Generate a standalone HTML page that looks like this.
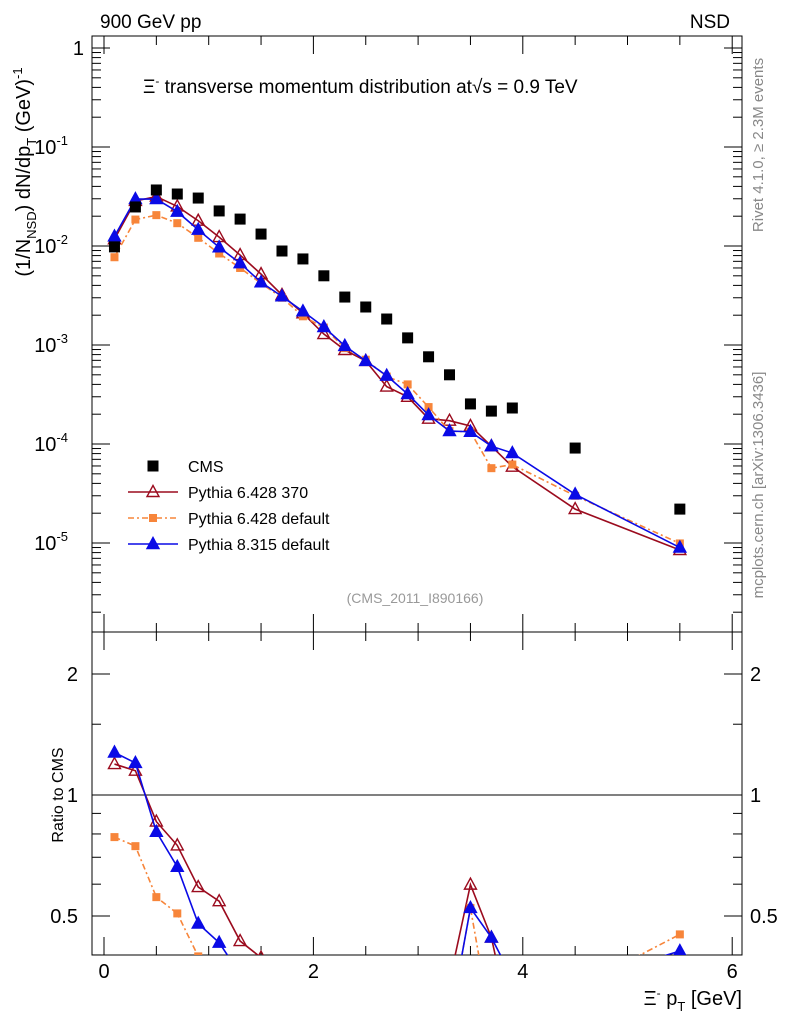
<!DOCTYPE html>
<html><head><meta charset="utf-8"><style>
body{margin:0;background:#fff;font-family:"Liberation Sans",sans-serif}
svg text{font-family:"Liberation Sans","DejaVu Sans",sans-serif}
</style></head><body>
<svg id="c" width="786" height="1024" xmlns="http://www.w3.org/2000/svg">
<defs>
<clipPath id="cm"><rect x="92" y="36" width="650" height="596"/></clipPath>
<clipPath id="cr"><rect x="92" y="632" width="650" height="323"/></clipPath>
</defs>
<rect x="92" y="36" width="650" height="596" fill="none" stroke="#000"/>
<rect x="92" y="632" width="650" height="323" fill="none" stroke="#000"/>
<g id="axes"></g>
<g id="mainMarks" clip-path="url(#cm)"></g>
<g id="ratioMarks" clip-path="url(#cr)"></g>
<text x="100" y="28" font-size="19">900 GeV pp</text>
<text x="730" y="28" font-size="19" text-anchor="end">NSD</text>
<text x="143" y="93" font-size="19">Ξ<tspan dy="-8" font-size="12">-</tspan><tspan dy="8"> transverse momentum distribution at</tspan><tspan>√s = 0.9 TeV</tspan></text>
<text transform="translate(30,172) rotate(-90)" font-size="20" text-anchor="middle">(1/N<tspan font-size="13" dy="6">NSD</tspan><tspan dy="-6">) dN/dp</tspan><tspan font-size="13" dy="6">T</tspan><tspan dy="-6"> (GeV)</tspan><tspan font-size="13" dy="-8">-1</tspan></text>
<text transform="translate(63,795) rotate(-90)" font-size="16" text-anchor="middle">Ratio to CMS</text>
<text x="742" y="1005" font-size="20" text-anchor="end">Ξ<tspan dy="-8" font-size="12">-</tspan><tspan dy="8"> p</tspan><tspan font-size="13" dy="6">T</tspan><tspan dy="-6"> [GeV]</tspan></text>
<text transform="translate(763,145) rotate(-90)" font-size="15" fill="#888" text-anchor="middle">Rivet 4.1.0, ≥ 2.3M events</text>
<text transform="translate(763,485) rotate(-90)" font-size="15" fill="#888" text-anchor="middle">mcplots.cern.ch [arXiv:1306.3436]</text>
<text x="415" y="603" font-size="14" fill="#999" text-anchor="middle">(CMS_2011_I890166)</text>
<g id="legend"></g>
</svg>
<script>
const xs=[0.1,0.3,0.5,0.7,0.9,1.1,1.3,1.5,1.7,1.9,2.1,2.3,2.5,2.7,2.9,3.1,3.3,3.5,3.7,3.9,4.5,5.5];
const cms=[0.0098,0.0248,0.0368,0.0335,0.0305,0.0226,0.0187,0.0132,0.0089,0.0074,0.0050,0.00305,0.00242,0.00183,0.00118,0.00076,0.00050,0.000254,0.000215,0.000231,0.000091,0.000022];
const py370=[0.0117,0.0285,0.0316,0.0251,0.0180,0.0123,0.0081,0.0052,0.0032,0.00209,0.00129,0.00089,0.00069,0.00038,0.00030,0.000180,0.000172,0.000152,0.000095,0.000059,0.000022,0.0000085];
const py6def=[0.0077,0.0185,0.0205,0.0170,0.0121,0.0084,0.0060,0.0042,0.0030,0.00195,0.00150,0.00093,0.00071,0.00048,0.00040,0.000236,0.000135,0.000133,0.000057,0.000062,0.000030,0.0000099];
const py8=[0.0125,0.0298,0.0298,0.0222,0.0146,0.0097,0.0067,0.0043,0.0031,0.00219,0.00152,0.00098,0.00069,0.00049,0.00032,0.000196,0.000135,0.000133,0.000095,0.000081,0.000031,0.0000090];
const yTicks=[1,0.1,0.01,0.001,0.0001,0.00001];
const yTickLabels=["1","10","10","10","10","10"];
const yTickExp=["","-1","-2","-3","-4","-5"];
const xTicks=[0,2,4,6];
const rTicks=[2,1,0.5];

const NS="http://www.w3.org/2000/svg";
const X=v=>104+104.7*v;
const Y=v=>48-99*Math.log10(v);
const R=r=>795-121*Math.log2(r);
function mk(tag,attrs,parent){const e=document.createElementNS(NS,tag);for(const k in attrs)e.setAttribute(k,attrs[k]);parent.appendChild(e);return e;}
const ax=document.getElementById('axes');
for(let d=-6;d<=0;d++){for(let m=1;m<10;m++){const v=m*Math.pow(10,d);const y=Y(v);if(y<36||y>632)continue;const L=m==1?18:9;
const t=mk('line',{x1:92,x2:92+L,y1:y,y2:y,stroke:'#000'},ax);
const t2=mk('line',{x1:742,x2:742-L,y1:y,y2:y,stroke:'#000'},ax);}}
yTicks.forEach((v,i)=>{const t=mk('text',{x:yTickExp[i]?68:84,y:Y(v)+7,'font-size':20,'text-anchor':'end'},ax);

t.textContent=yTickLabels[i];if(yTickExp[i]){const s=mk('tspan',{'font-size':13,dy:-9},t);s.textContent=yTickExp[i];}});
for(let v=0;v<=6.1;v+=0.5){const x=X(v);const L=Math.abs(v%2)<1e-6?18:9;
[[632,-1],[36,1],[955,-1],[632,1]].forEach(([y0,s])=>{const t=mk('line',{x1:x,x2:x,y1:y0,y2:y0+s*L,stroke:'#000'},ax);});}
xTicks.forEach(v=>{const t=mk('text',{x:X(v),y:978,'font-size':20,'text-anchor':'middle'},ax);t.textContent=v;});
[0.4,0.5,0.6,0.7,0.8,0.9,1,1.5,2].forEach(v=>{const y=R(v);const L=(v==1||v==2||v==0.5)?18:9;
const a=mk('line',{x1:92,x2:92+L,y1:y,y2:y,stroke:'#000'},ax);
const b=mk('line',{x1:742,x2:742-L,y1:y,y2:y,stroke:'#000'},ax);});
rTicks.forEach(v=>{const a=mk('text',{x:78,y:R(v)+7,'font-size':20,'text-anchor':'end'},ax);a.textContent=v;
const b=mk('text',{x:750,y:R(v)+7,'font-size':20},ax);b.textContent=v;});
const one=mk('line',{x1:92,x2:742,y1:R(1),y2:R(1),stroke:'#000'},ax);

function marker(g,type,x,y,col){let e;
if(type=='sq'){e=mk('rect',{x:x-5.5,y:y-5.5,width:11,height:11,fill:col},g);}
else if(type=='osq'){e=mk('rect',{x:x-4,y:y-4,width:8,height:8,fill:col},g);}
else {e=mk('polygon',{points:`${x},${y-6.5} ${x-6},${y+4.5} ${x+6},${y+4.5}`,fill:type=='tri'?col:'none',stroke:col,'stroke-width':1.4},g);}
return e;}
const series=[
 {name:'pythia6-370',d:py370,col:'#9b0b1e',m:'otri',dash:''},
 {name:'pythia6-default',d:py6def,col:'#f7853a',m:'osq',dash:'6,3,2,3'},
 {name:'pythia8',d:py8,col:'#0a0ae6',m:'tri',dash:''}];
const mm=document.getElementById('mainMarks'), rm=document.getElementById('ratioMarks');
series.forEach(s=>{
 const p=mk('polyline',{points:xs.map((x,i)=>X(x)+','+Y(s.d[i])).join(' '),fill:'none',stroke:s.col,'stroke-width':1.6,'stroke-dasharray':s.dash},mm);
 
 xs.forEach((x,i)=>{const e=marker(mm,s.m,X(x),Y(s.d[i]),s.col);});
 const rp=mk('polyline',{points:xs.map((x,i)=>X(x)+','+R(s.d[i]/cms[i])).join(' '),fill:'none',stroke:s.col,'stroke-width':1.6,'stroke-dasharray':s.dash},rm);
 
 xs.forEach((x,i)=>{const e=marker(rm,s.m,X(x),R(s.d[i]/cms[i]),s.col);});
});
xs.forEach((x,i)=>{const e=marker(mm,'sq',X(x),Y(cms[i]),'#000');});
const lg=document.getElementById('legend');
const ents=[['CMS','sq','#000',''],['Pythia 6.428 370','otri','#9b0b1e',''],['Pythia 6.428 default','osq','#f7853a','6,3,2,3'],['Pythia 8.315 default','tri','#0a0ae6','']];
ents.forEach((e,i)=>{const y=466+26*i;const g=mk('g',{},lg);
 if(i>0)mk('line',{x1:128,x2:178,y1:y,y2:y,stroke:e[2],'stroke-width':1.6,'stroke-dasharray':e[3]},g);
 marker(g,e[1],153,y,e[2]);
 const t=mk('text',{x:188,y:y+6,'font-size':16},g);t.textContent=e[0];});
</script>
</body></html>
